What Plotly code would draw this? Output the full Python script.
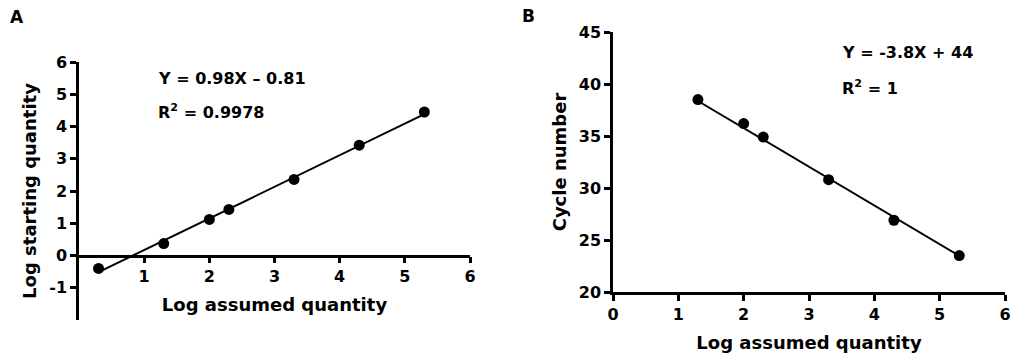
import numpy as np
import plotly.graph_objects as go

# ---- data ----
a_x = [0.3, 1.3, 2.0, 2.3, 3.3, 4.3, 5.3]
a_y = [-0.40, 0.37, 1.12, 1.43, 2.36, 3.42, 4.45]
a_slope, a_intercept = 0.98, -0.81

b_x = [1.3, 2.0, 2.3, 3.3, 4.3, 5.3]
b_y = [38.5, 36.2, 34.9, 30.8, 26.9, 23.5]
b_slope, b_intercept = -3.72, 43.2

a_xticks = [1, 2, 3, 4, 5, 6]
a_yticks = [-1, 0, 1, 2, 3, 4, 5, 6]
b_xticks = [0, 1, 2, 3, 4, 5, 6]
b_yticks = [20, 25, 30, 35, 40, 45]

FONT = "DejaVu Sans, Liberation Sans, Arial, sans-serif"

def bold_ticks(vals):
    return ["<b>%s</b>" % v for v in vals]

fig = go.Figure()

ax_line = np.array([min(a_x), max(a_x)])
fig.add_trace(go.Scatter(x=ax_line, y=a_slope * ax_line + a_intercept, mode="lines",
                         line=dict(color="black", width=2), xaxis="x", yaxis="y",
                         showlegend=False, hoverinfo="skip"))
fig.add_trace(go.Scatter(x=a_x, y=a_y, mode="markers",
                         marker=dict(color="black", size=11), xaxis="x", yaxis="y",
                         showlegend=False))

bx_line = np.array([min(b_x), max(b_x)])
fig.add_trace(go.Scatter(x=bx_line, y=b_slope * bx_line + b_intercept, mode="lines",
                         line=dict(color="black", width=2), xaxis="x2", yaxis="y2",
                         showlegend=False, hoverinfo="skip"))
fig.add_trace(go.Scatter(x=b_x, y=b_y, mode="markers",
                         marker=dict(color="black", size=11), xaxis="x2", yaxis="y2",
                         showlegend=False))

W, H = 1013, 356
def px_x(p): return p / W
def px_y(p): return 1 - p / H

a_ydom = [px_y(320), px_y(62)]
a_xpos = a_ydom[0] + (0 - (-2)) / 8 * (a_ydom[1] - a_ydom[0])

tickfont = dict(family=FONT, size=16, color="black")
titlefont = dict(family=FONT, size=18, color="black")
common = dict(showgrid=False, zeroline=False, showline=True, linecolor="black", linewidth=2.5,
              ticks="outside", ticklen=6, tickwidth=2.5, tickcolor="black", tickfont=tickfont,
              automargin=False)

fig.update_layout(
    width=W, height=H, margin=dict(l=0, r=0, t=0, b=0, autoexpand=False),
    paper_bgcolor="white", plot_bgcolor="white", showlegend=False,
    xaxis=dict(domain=[px_x(79), px_x(470)], range=[0, 6], tickvals=a_xticks,
               ticktext=bold_ticks(a_xticks), anchor="free", position=a_xpos,
               title=dict(text="<b>Log assumed quantity</b>", font=titlefont, standoff=12), **common),
    yaxis=dict(domain=a_ydom, range=[-2, 6], tickvals=a_yticks, ticktext=bold_ticks(a_yticks),
               anchor="x",
               title=dict(text="<b>Log starting quantity</b>", font=titlefont, standoff=8), **common),
    xaxis2=dict(domain=[px_x(613), px_x(1005)], range=[0, 6], tickvals=b_xticks,
                ticktext=bold_ticks(b_xticks), anchor="y2",
                title=dict(text="<b>Log assumed quantity</b>", font=titlefont, standoff=14), **common),
    yaxis2=dict(domain=[px_y(292), px_y(32)], range=[20, 45], tickvals=b_yticks,
                ticktext=bold_ticks(b_yticks), anchor="x2",
                title=dict(text="<b>Cycle number</b>", font=titlefont, standoff=8), **common),
)

annfont = dict(family=FONT, size=16, color="black")
def ann(text, x, y, font=annfont):
    fig.add_annotation(text="<b>%s</b>" % text, x=px_x(x), y=px_y(y), xref="paper", yref="paper",
                       xanchor="left", yanchor="middle", showarrow=False, font=font)

ann("A", 8, 17, dict(family=FONT, size=17, color="black"))
ann("B", 520, 16, dict(family=FONT, size=17, color="black"))
ann("Y = 0.98X \u2013 0.81", 156, 78)
ann("R<sup>2</sup> = 0.9978", 156, 111)
ann("Y = -3.8X + 44", 840, 52)
ann("R<sup>2</sup> = 1", 840, 87)

fig.write_html("out.html", config={"displayModeBar": False},
               post_script="document.body.style.margin='0';document.body.style.padding='0';")
